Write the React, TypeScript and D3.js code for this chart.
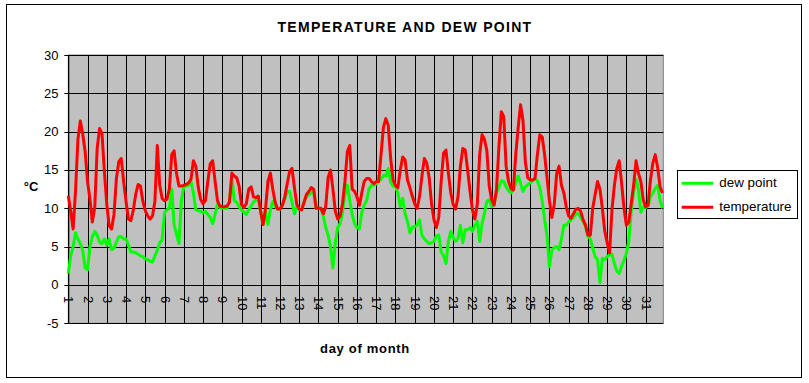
import React from "react";
import * as d3 from "d3";

// 3-hourly readings (hour 0, 3, 6, ... of the month)
const STEP_HOURS = 3;
const temperature: number[] = [
  11.6, 9.6, 7.3, 12.2, 19, 21.4, 19.7, 17.4,
  13.5, 11.2, 8.2, 10.1, 17.8, 20.4, 19.8, 14.8,
  10.5, 7.7, 7.3, 9.2, 13.9, 16.1, 16.5, 13.5,
  10.9, 8.6, 8.4, 9.7, 11.8, 13.1, 12.9, 10.9,
  9.7, 9, 8.6, 9, 10.9, 18.2, 13, 11.3,
  11, 11.2, 12.5, 17, 17.5, 14.5, 12.9, 12.9,
  13, 13.1, 13.3, 13.8, 16.2, 15.5, 12.8, 11.2,
  10.6, 11, 13.5, 15.8, 16.2, 13.6, 11, 10.3,
  10.2, 10.2, 10.3, 10.8, 14.6, 14.2, 14, 12.9,
  10.5, 10.1, 10.6, 12.5, 12.8, 11.5, 11.4, 11.6,
  9.5, 7.9, 10, 13.5, 14.6, 12.5, 10.8, 9.9,
  9.9, 10.4, 11.5, 13.2, 14.8, 15.2, 12.7, 10.5,
  9.9, 9.8, 10.8, 11.8, 12.2, 12.7, 12.5, 10,
  10, 10, 9.3, 10.2, 14, 15, 12.5, 9.6,
  8.6, 9, 10.6, 13.5, 17.4, 18.2, 12.5, 12.2,
  11.5, 10.4, 12, 13.5, 13.9, 13.9, 13.5, 13.2,
  13.5, 13.5, 17, 20.6, 21.7, 20.8, 16.5, 13.7,
  13, 12.7, 15, 16.7, 16.3, 13.7, 12.7, 11.6,
  10.6, 10, 11.5, 14.2, 16.5, 15.9, 14, 10.6,
  8.5, 7.5, 8.8, 13.5, 17.2, 17.6, 14.6, 12,
  10.5, 9.9, 11.5, 15.5, 17.8, 17.6, 15, 12.2,
  9.8, 8.6, 10.5, 17, 19.6, 19, 17.5, 12.8,
  11.1, 10.4, 12.5, 18, 22.6, 22, 15.5, 13.5,
  12.6, 12.4, 17, 20.5, 23.5, 21.5, 16, 14,
  13.7, 13.7, 13.9, 17, 19.6, 19.3, 17, 14,
  11, 8.8, 10.5, 14.5, 15.5, 13, 12, 10.2,
  9, 8.7, 9.3, 9.9, 10, 9.6, 8.5, 7.8,
  6.5, 6.5, 10, 11.8, 13.5, 12.5, 10, 7,
  5.5, 4.2, 9.8, 13, 15.2, 16.2, 13.3, 10,
  7.8, 8.2, 10.6, 13, 16.2, 14.6, 13.5, 11.1,
  10.2, 10.4, 13.7, 15.9, 17, 15.3, 12.8, 12,
];
const dewPoint: number[] = [
  1.5, 3.8, 5, 6.8, 6, 5.4, 4.5, 2.2,
  2, 5, 6.3, 7, 6.5, 5.6, 5.4, 6,
  5.2, 6, 4.6, 4.8, 5.6, 6.3, 6.3, 6,
  6, 5.2, 4.3, 4.3, 4.2, 4, 3.8, 3.7,
  3.4, 3.3, 3.1, 3, 3.8, 4.5, 5.5, 5.9,
  9.4, 9.8, 10, 12.5, 7.8, 6.6, 5.4, 11,
  12.8, 12.9, 13, 13.5, 12, 9.8, 9.7, 9.6,
  9.4, 9.6, 9.2, 8.8, 8, 9.2, 10.5, 10.1,
  10, 10, 10, 11, 13.9, 11, 10.8, 10.2,
  9.8, 9.5, 9.2, 9.8, 10.3, 10.8, 11.1, 11.2,
  9.5, 7.9, 9.5, 7.9, 9.8, 10.9, 10.3, 9.9,
  9.9, 10.4, 11.2, 12.2, 12.2, 10.8, 9.3, 10.2,
  9.9, 9.8, 10.8, 11.5, 11.8, 12, 12.2, 10,
  10, 10, 9, 7.5, 6.5, 5, 2.2, 5.5,
  7.5, 8, 9.5, 11.7, 13, 11, 9.2, 8,
  7.5, 7.3, 9.5, 10.4, 11, 12.5, 13, 13,
  13.2, 13.5, 13.8, 14.3, 14.2, 15.2, 13.4, 12.9,
  12.8, 12, 10.2, 11.3, 9.3, 8.3, 6.8, 7.5,
  7.6, 7.8, 8.5, 6.5, 6, 5.7, 5.4, 5.5,
  5.7, 6.4, 6.5, 4.3, 3.8, 2.8, 5.7, 7,
  6.2, 5.7, 6, 7.8, 5.5, 7.2, 7.2, 7.5,
  7, 7.8, 8.3, 5.7, 8, 9.4, 10.9, 11.1,
  10.2, 10.6, 12, 12.7, 13.6, 13.5, 12.8, 12.3,
  12, 12.4, 13.3, 14.2, 13.3, 12.2, 12.8, 13.1,
  13.3, 13.6, 13.9, 13.6, 12.7, 11, 8.5, 6.5,
  2.4, 4.5, 4.9, 5, 4.6, 6, 7.8, 7.8,
  8.2, 8.5, 8.8, 9.3, 9.3, 8.8, 8.3, 7.6,
  6.3, 6, 4.8, 3.7, 3.3, 0.3, 3.5, 3.3,
  3.7, 3.9, 4, 2.8, 1.8, 1.5, 2.4, 3.2,
  4.1, 5.8, 9.6, 12.2, 13.8, 12.4, 9.5, 10.2,
  10.1, 10.3, 11.5, 12, 12.6, 13, 11, 10,
];
const dayLabels: string[] = Array.from({ length: 31 }, (_, i) => String(i + 1));
const yTicks: number[] = [-5, 0, 5, 10, 15, 20, 25, 30];

const W = 809;
const H = 383;
const PL = 68.3, PR = 663.3, PT = 55, PB = 323.3;
const FONT = "'Liberation Sans', Arial, sans-serif";

export default function App() {
  const x = d3.scaleLinear().domain([0, 742]).range([PL, PR]);
  const y = d3.scaleLinear().domain([-5, 30]).range([PB, PT]);
  const line = d3
    .line<number>()
    .x((_, i) => x(i * STEP_HOURS))
    .y((v) => y(v));

  return (
    <svg
      width={W}
      height={H}
      style={{ position: "absolute", left: 0, top: 0, background: "#fff" }}
      fontFamily={FONT}
    >
      <rect x={0} y={0} width={W} height={H} fill="#fff" />
      <rect x={6.5} y={4.5} width={795} height={373} fill="none" stroke="#000" strokeWidth={1} />
      <text
        x={405}
        y={31.5}
        textAnchor="middle"
        fontWeight="bold"
        fontSize={14}
        letterSpacing={1.3}
      >
        TEMPERATURE AND DEW POINT
      </text>
      {/* plot area */}
      <rect x={PL} y={PT} width={PR - PL} height={PB - PT} fill="#c0c0c0" stroke="#808080" strokeWidth={1} />
      {yTicks.map((t) => (
        <line key={"h" + t} x1={PL - 4} x2={PR} y1={Math.round(y(t)) + 0.5} y2={Math.round(y(t)) + 0.5} stroke="#000" strokeWidth={1} />
      ))}
      {dayLabels.map((d, i) => (
        <line
          key={"v" + d}
          x1={Math.round(x(i * 24)) + 0.5}
          x2={Math.round(x(i * 24)) + 0.5}
          y1={PT}
          y2={PB}
          stroke="#000"
          strokeWidth={1}
        />
      ))}
      <line x1={PL + 0.5} x2={PL + 0.5} y1={PT} y2={PB} stroke="#000" strokeWidth={1} />
      <path d={line(dewPoint) || ""} fill="none" stroke="#00ff00" strokeWidth={3} strokeLinejoin="round" />
      <path d={line(temperature) || ""} fill="none" stroke="#ff0000" strokeWidth={3} strokeLinejoin="round" />
      {yTicks.map((t) => (
        <text key={"yl" + t} x={58.5} y={y(t)} textAnchor="end" dominantBaseline="central" fontSize={13}>
          {t}
        </text>
      ))}
      {dayLabels.map((d, i) => (
        <text
          key={"xl" + d}
          transform={`translate(${x(i * 24) + 0.5},${296}) rotate(90)`}
          textAnchor="start"
          dominantBaseline="central"
          fontSize={13}
        >
          {d}
        </text>
      ))}
      <text x={31} y={186} textAnchor="middle" dominantBaseline="central" fontWeight="bold" fontSize={13}>
        °C
      </text>
      <text x={365} y={353} textAnchor="middle" fontWeight="bold" fontSize={13} letterSpacing={0.7}>
        day of month
      </text>
      {/* legend */}
      <rect x={677.5} y={170.5} width={120} height={48} fill="#fff" stroke="#000" strokeWidth={1} />
      <line x1={681.7} x2={713.3} y1={183.3} y2={183.3} stroke="#00ff00" strokeWidth={3} />
      <line x1={681.7} x2={713.3} y1={207.3} y2={207.3} stroke="#ff0000" strokeWidth={3} />
      <text x={719.3} y={182.5} dominantBaseline="central" fontSize={13.4}>
        dew point
      </text>
      <text x={719.3} y={206.5} dominantBaseline="central" fontSize={13.4}>
        temperature
      </text>
    </svg>
  );
}
